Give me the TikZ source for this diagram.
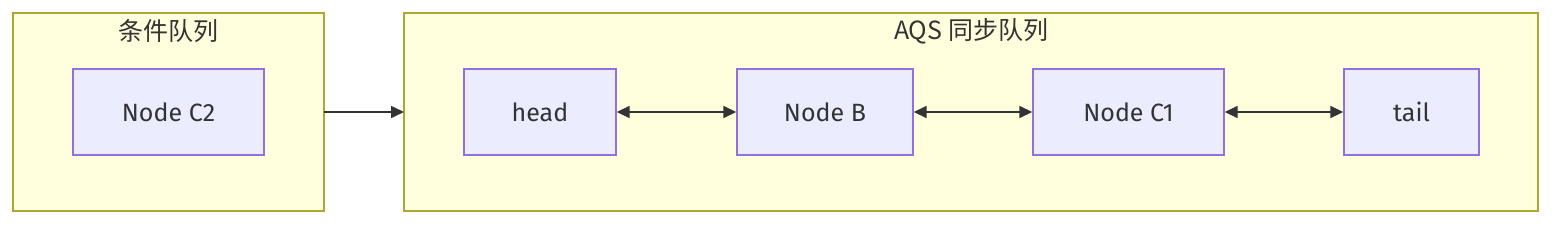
\documentclass[tikz,border=0pt]{standalone}
\usepackage{fontspec}
\setmainfont{Fira Sans}
\newfontfamily\cjk{Noto Sans CJK SC}
\usetikzlibrary{arrows.meta}
\definecolor{clfill}{HTML}{FFFFDE}
\definecolor{cldraw}{HTML}{AAAA33}
\definecolor{ndfill}{HTML}{ECECFF}
\definecolor{nddraw}{HTML}{9370DB}
\definecolor{txt}{HTML}{333333}
\begin{document}
\begin{tikzpicture}[x=1pt,y=-1pt,
  cluster/.style={draw=cldraw,fill=clfill,line width=1.4pt},
  qnode/.style={draw=nddraw,fill=ndfill,line width=1.4pt,inner sep=0pt,text=txt,font=\fontsize{25}{29}\selectfont},
  ttl/.style={text=txt,font=\fontsize{25}{29}\selectfont\cjk,inner sep=0pt},
  link/.style={draw=txt,line width=1.6pt,-{Triangle[length=13pt,width=12pt]}},
  dlink/.style={draw=txt,line width=1.6pt,{Triangle[length=13pt,width=12pt]}-{Triangle[length=13pt,width=12pt]}}]
\useasboundingbox (0,0) rectangle (1568,228);
\draw[cluster] (13,13) rectangle (324,211);
\node[ttl] (t1) at (168.5,31) {条件队列};
\draw[cluster] (404,13) rectangle (1538,211);
\node[ttl] (t2) at (971,31) {AQS 同步队列};
\node[qnode,minimum width=191pt,minimum height=86pt] (c2) at (168.5,112) {Node C2};
\node[qnode,minimum width=152pt,minimum height=86pt] (head) at (540,112) {head};
\node[qnode,minimum width=176pt,minimum height=86pt] (nb) at (825,112) {Node B};
\node[qnode,minimum width=191pt,minimum height=86pt] (c1) at (1128.5,112) {Node C1};
\node[qnode,minimum width=135pt,minimum height=86pt] (tail) at (1411.5,112) {tail};
\coordinate (a1) at (324,112);
\coordinate (a2) at (404,112);
\draw[link] (a1) -- (a2);
\draw[dlink] (head) -- (nb);
\draw[dlink] (nb) -- (c1);
\draw[dlink] (c1) -- (tail);
\end{tikzpicture}
\end{document}
